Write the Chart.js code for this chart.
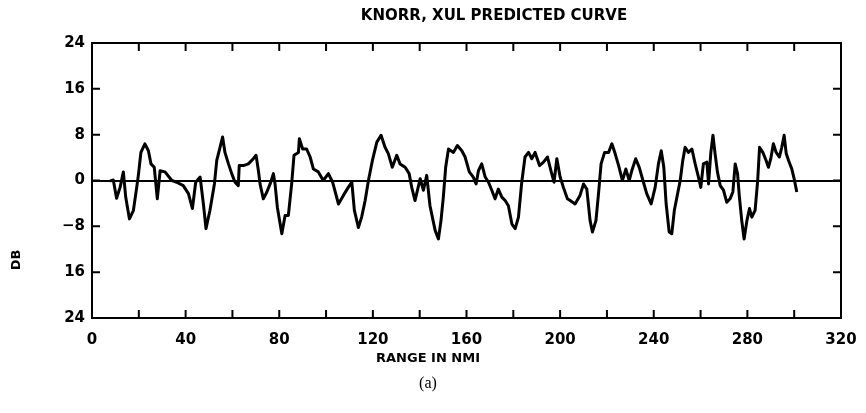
<!DOCTYPE html>
<html>
<head>
<meta charset="utf-8">
<script src="https://cdn.jsdelivr.net/npm/chart.js@4.4.1/dist/chart.umd.min.js"></script>
<style>
  html, body { margin: 0; padding: 0; background: #fff; }
  #wrap { width: 866px; height: 413px; position: relative; }
</style>
</head>
<body>
<div id="wrap"><canvas id="grafico"></canvas></div>
<script>
// range in nmi
const rangeNmi = [
  7.7, 9.1, 10.5, 12, 13.4, 14.4, 16, 17.7, 19.1, 19.8, 20.9, 22.6, 24.1, 25.2, 26.6, 27.9, 29.1, 31.2, 34.1, 36.2,
  39, 41.2, 42.9, 44.3, 46.2, 47.6, 48.7, 50.4, 52.3, 53.3, 54.7, 55.8, 56.8, 58.3, 59.7, 61.1, 62.5, 62.9, 64.7, 66.8,
  68.9, 70.1, 71.1, 71.8, 73.2, 74.7, 76.1, 77.5, 78.2, 79.2, 81.1, 82.5, 83.9, 85.3, 86.3, 88.2, 88.6, 90, 91.7, 93.2,
  94.6, 96.7, 98.8, 101, 102.8, 105.3, 107.4, 109.5, 111, 112.1, 113.8, 115.2, 116.7, 118.1, 119.8, 121.7, 123.5, 125.2, 126.6, 128.3,
  130.2, 131.6, 133.8, 135.5, 136.6, 138, 140.2, 141.6, 143, 144.4, 146.6, 148, 149.1, 150.1, 151.1, 152.3, 154.4, 156.1, 158, 159.4,
  161.2, 162.9, 164.1, 165.1, 166.5, 168, 169.4, 170.8, 172.2, 173.6, 175.1, 176.5, 177.9, 179.4, 180.8, 182.2, 183.6, 185, 186.5, 187.9,
  189.3, 191.2, 192.9, 194.6, 196.4, 197.4, 198.6, 200, 201.4, 203.1, 204.3, 206.4, 208.5, 210, 211.4, 212.8, 213.8, 215.3, 216.4, 217.5,
  219, 220.7, 222.1, 223.5, 225, 226.6, 228.1, 229.5, 230.6, 232.3, 233.8, 235.6, 237, 238.9, 240.6, 242, 243.2, 244.3, 245.3, 246.6,
  247.7, 248.8, 249.9, 251.3, 252.4, 253.4, 254.8, 256.3, 257.7, 259.1, 260.1, 261.2, 262.7, 263.4, 264.4, 265.3, 266.2, 267.2, 268.4, 269.8,
  271.2, 272.6, 273.8, 274.8, 275.8, 276.6, 277.6, 278.6, 279.8, 280.9, 281.9, 283.3, 284.4, 285.2, 286.6, 288, 289, 290, 291.1, 292.3,
  293.7, 294.7, 295.7, 296.6, 297.6, 299, 300, 301.1
];
const nivelDb = [
  -0.1, 0.1, -3.1, -1.2, 1.5, -2.9, -6.7, -5.2, -1.2, 0.9, 4.9, 6.4, 5.2, 2.9, 2.3, -3.2, 1.7, 1.5, 0, -0.3,
  -0.9, -2.3, -4.9, -0.3, 0.6, -4.1, -8.4, -5.2, -0.6, 3.5, 5.8, 7.6, 4.9, 2.9, 1.2, -0.3, -0.9, 2.6, 2.6, 2.9,
  3.8, 4.4, 1.7, -0.6, -3.2, -2.0, -0.6, 1.2, -0.6, -4.7, -9.3, -6.1, -6.1, -0.6, 4.4, 4.9, 7.3, 5.5, 5.5, 4.1,
  2.0, 1.5, 0, 1.2, -0.3, -4.1, -2.6, -1.2, -0.3, -5.2, -8.2, -6.4, -3.5, 0, 3.5, 6.7, 7.9, 5.8, 4.7, 2.3,
  4.4, 2.9, 2.3, 1.2, -1.2, -3.5, 0.3, -1.7, 0.9, -4.4, -8.7, -10.2, -7, -2.9, 2.3, 5.5, 4.9, 6.1, 5.2, 4.1,
  1.5, 0.6, -0.6, 1.7, 2.9, 0.6, -0.3, -1.7, -3.2, -1.5, -2.9, -3.5, -4.4, -7.6, -8.4, -6.4, -0.3, 4.1, 4.9, 3.8,
  4.9, 2.6, 3.2, 4.1, 1.2, -0.3, 3.8, 0.6, -1.2, -3.2, -3.5, -4.1, -2.6, -0.6, -1.5, -7, -9, -7, -2.3, 2.9,
  4.9, 4.9, 6.4, 4.7, 2.6, 0, 2.0, 0, 1.7, 3.8, 2.3, -0.3, -2.3, -4.1, -1.2, 2.9, 5.2, 2.3, -4.1, -9,
  -9.3, -5.2, -2.9, 0, 3.5, 5.8, 4.9, 5.5, 2.9, 0.6, -1.2, 2.9, 3.2, -0.6, 4.9, 7.9, 4.7, 1.5, -0.9, -1.7,
  -3.8, -3.2, -2.0, 2.9, 1.2, -2.9, -7, -10.2, -7, -4.9, -6.4, -5.2, 0, 5.8, 4.9, 3.5, 2.3, 3.8, 6.4, 4.9,
  4.1, 5.8, 7.9, 4.7, 3.5, 2.0, 0.3, -2.0
];

const yTicks = [24, 16, 8, 0, -8, -16, -24];
const yLabels = ["24", "16", "8", "0", "−8", "16", "24"];
const xMarcas = [0, 20, 40, 60, 80, 100, 120, 140, 160, 180, 200, 220, 240, 260, 280, 300, 320];

const titulo = "KNORR, XUL PREDICTED CURVE";
const tituloX = "RANGE IN NMI";
const tituloY = "DB";
const legenda = "(a)";

const familia = "'DejaVu Sans', 'Liberation Sans', sans-serif";

const moldura = {
  id: "moldura",
  afterDraw(chart) {
    const { ctx, chartArea: a, scales: { x, y } } = chart;
    ctx.save();
    ctx.strokeStyle = "#000";
    ctx.lineWidth = 2;
    ctx.strokeRect(a.left, a.top, a.width, a.height);

    ctx.beginPath();
    xMarcas.forEach((v) => {
      const px = x.getPixelForValue(v);
      ctx.moveTo(px, a.bottom); ctx.lineTo(px, a.bottom - 8);
      ctx.moveTo(px, a.top); ctx.lineTo(px, a.top + 8);
    });
    yTicks.forEach((v) => {
      const py = y.getPixelForValue(v);
      ctx.moveTo(a.left, py); ctx.lineTo(a.left + 8, py);
      ctx.moveTo(a.right, py); ctx.lineTo(a.right - 8, py);
    });
    ctx.stroke();

    ctx.fillStyle = "#000";
    ctx.textAlign = "center";
    ctx.textBaseline = "middle";
    ctx.font = "bold 15px " + familia;
    ctx.fillText(titulo, 494, 16);
    ctx.font = "bold 13px " + familia;
    ctx.fillText(tituloX, 428, 359);
    ctx.font = "16px 'Liberation Serif', serif";
    ctx.fillText(legenda, 428, 384);

    ctx.translate(17, 260);
    ctx.rotate(-Math.PI / 2);
    ctx.font = "bold 13px " + familia;
    ctx.fillText(tituloY, 0, 0);
    ctx.restore();
  },
};

const charts = {};
const ctx = document.getElementById("grafico").getContext("2d");
charts.grafico = new Chart(ctx, {
  type: "line",
  data: {
    datasets: [{
      data: rangeNmi.map((v, i) => ({ x: v, y: nivelDb[i] })),
      borderColor: "#000",
      borderWidth: 3,
      borderJoinStyle: "round",
      pointRadius: 0,
      tension: 0,
      fill: false,
    }],
  },
  options: {
    responsive: true,
    maintainAspectRatio: false,
    animation: false,
    layout: { padding: { left: 0, right: 25, top: 43, bottom: 0 } },
    plugins: { legend: { display: false }, tooltip: { enabled: false } },
    scales: {
      x: {
        type: "linear",
        min: 0,
        max: 320,
        afterFit: (s) => { s.height = 95; },
        grid: { display: false },
        border: { display: false },
        ticks: {
          stepSize: 40,
          autoSkip: false,
          maxRotation: 0,
          padding: 5,
          color: "#000",
          font: { family: familia, size: 15, weight: "bold" },
        },
      },
      y: {
        min: -24,
        max: 24,
        afterFit: (s) => { s.width = 92; },
        border: { display: false },
        grid: {
          drawTicks: false,
          lineWidth: 2,
          color: (c) => (c.tick && c.tick.value === 0 ? "#000" : "rgba(0,0,0,0)"),
        },
        ticks: {
          stepSize: 8,
          padding: 7,
          color: "#000",
          font: { family: familia, size: 15, weight: "bold" },
          callback: (v) => yLabels[yTicks.indexOf(v)],
        },
      },
    },
  },
  plugins: [moldura],
});
</script>
</body>
</html>
